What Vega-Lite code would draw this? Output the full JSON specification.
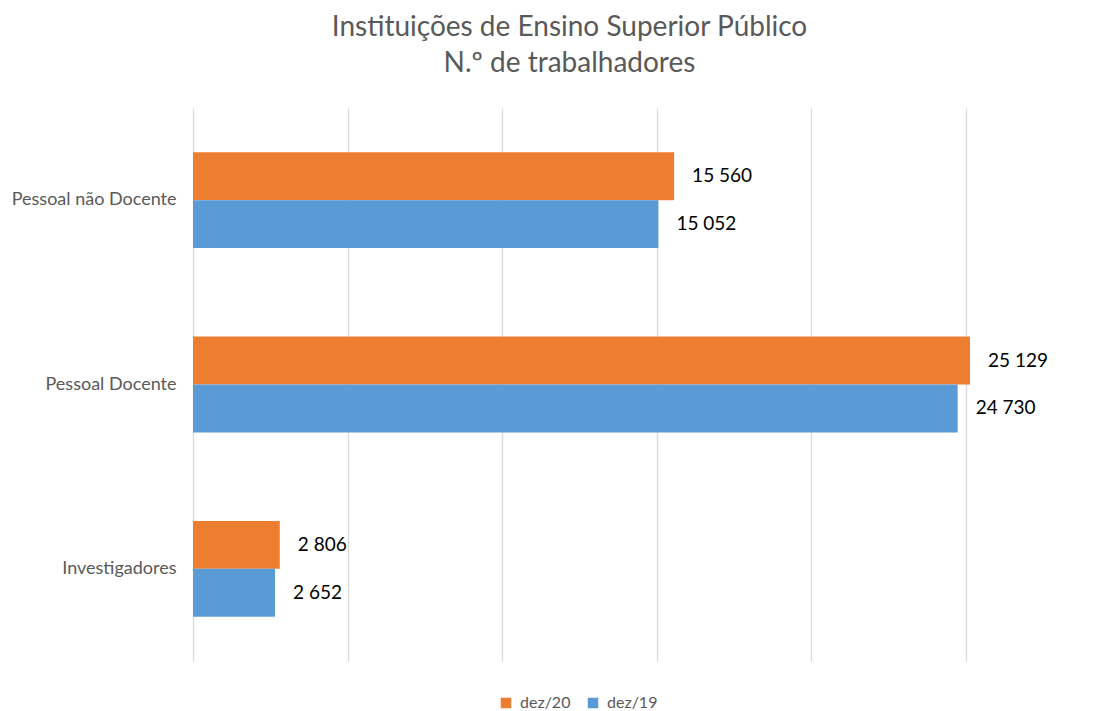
{
  "$schema": "https://vega.github.io/schema/vega-lite/v6.json",
  "width": 773,
  "height": 553,
  "autosize": {"type": "none"},
  "padding": {"left": 193, "top": 108, "right": 142, "bottom": 50},
  "background": "white",
  "config": {
    "locale": {"number": {"decimal": ",", "thousands": " ", "grouping": [3], "currency": ["", " €"]}},
    "view": {"stroke": null},
    "font": "Lato"
  },
  "title": {
    "text": ["Instituições de Ensino Superior Público", "N.º de trabalhadores"],
    "fontSize": 28,
    "fontWeight": "normal",
    "color": "#595959",
    "font": "Lato",
    "lineHeight": 36,
    "anchor": "middle",
    "dx": -10,
    "offset": 30
  },
  "data": {
    "values": [
      {"categoria": "Pessoal não Docente", "periodo": "dez/20", "valor": 15560},
      {"categoria": "Pessoal não Docente", "periodo": "dez/19", "valor": 15052},
      {"categoria": "Pessoal Docente", "periodo": "dez/20", "valor": 25129},
      {"categoria": "Pessoal Docente", "periodo": "dez/19", "valor": 24730},
      {"categoria": "Investigadores", "periodo": "dez/20", "valor": 2806},
      {"categoria": "Investigadores", "periodo": "dez/19", "valor": 2652}
    ]
  },
  "encoding": {
    "y": {
      "field": "categoria",
      "type": "nominal",
      "sort": ["Pessoal não Docente", "Pessoal Docente", "Investigadores"],
      "scale": {"paddingInner": 0.48, "paddingOuter": 0.24},
      "axis": {
        "title": null,
        "ticks": false,
        "domain": false,
        "labelPadding": 17,
        "labelFontSize": 18,
        "labelColor": "#595959",
        "labelFont": "Lato"
      }
    },
    "yOffset": {
      "field": "periodo",
      "type": "nominal",
      "sort": ["dez/20", "dez/19"]
    },
    "x": {
      "field": "valor",
      "type": "quantitative",
      "scale": {"domain": [0, 25000], "nice": false},
      "axis": {
        "title": null,
        "labels": false,
        "ticks": false,
        "domain": false,
        "values": [0, 5000, 10000, 15000, 20000, 25000],
        "grid": true,
        "gridColor": "#d9d9d9",
        "gridWidth": 1.3
      }
    }
  },
  "layer": [
    {
      "mark": {"type": "bar"},
      "encoding": {
        "color": {
          "field": "periodo",
          "type": "nominal",
          "sort": ["dez/20", "dez/19"],
          "scale": {"domain": ["dez/20", "dez/19"], "range": ["#ED7D31", "#5B9BD5"]},
          "legend": {
            "title": null,
            "orient": "none",
            "legendX": 305,
            "legendY": 587,
            "direction": "horizontal",
            "symbolType": "square",
            "symbolSize": 110,
            "symbolStrokeWidth": 0,
            "labelFontSize": 16,
            "labelColor": "#595959",
            "labelFont": "Lato",
            "columnPadding": 14,
            "labelOffset": 6
          }
        }
      }
    },
    {
      "mark": {"type": "text", "align": "left", "baseline": "middle", "dx": 18, "fontSize": 19, "color": "#000000", "font": "Lato"},
      "encoding": {
        "text": {"field": "valor", "type": "quantitative", "format": ",d"}
      }
    }
  ]
}
